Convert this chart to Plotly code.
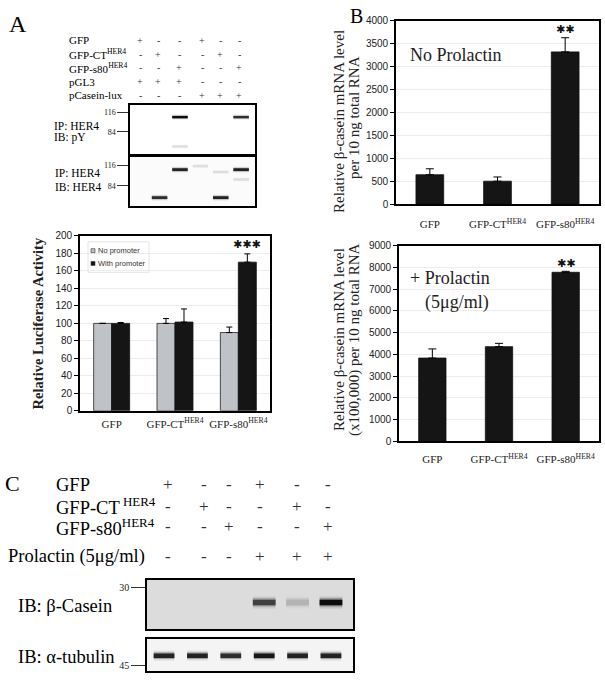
import plotly.graph_objects as go

W, H = 605, 690
SERIF = "Liberation Serif, Times New Roman, serif"
SANS = "Liberation Sans, Arial, sans-serif"
STAR = "DejaVu Sans, sans-serif"

# ---------------- data ----------------
lanes = [1, 2, 3, 4, 5, 6]

# Panel A : transfection table
a_row_labels = ["GFP", "GFP-CT<sup>HER4</sup>", "GFP-s80<sup>HER4</sup>", "pGL3", "pCasein-lux"]
a_signs = [["+", "-", "-", "+", "-", "-"],
           ["-", "+", "-", "-", "+", "-"],
           ["-", "-", "+", "-", "-", "+"],
           ["+", "+", "+", "-", "-", "-"],
           ["-", "-", "-", "+", "+", "+"]]

# Panel A blots (band position = relative migration, 0 = top of blot)
a1_marker_pos = [0.14, 0.54]
a1_marker_text = ["116", "84"]
a1_band_lane = [3, 6, 3]
a1_band_pos = [0.24, 0.24, 0.84]
a1_band_int = [0.95, 0.80, 0.05]

a2_marker_pos = [0.16, 0.58]
a2_marker_text = ["116", "84"]
a2_band_lane = [3, 6, 2, 5, 4, 5, 6]
a2_band_pos = [0.25, 0.25, 0.82, 0.82, 0.18, 0.30, 0.45]
a2_band_int = [0.85, 0.85, 0.80, 0.85, 0.03, 0.04, 0.04]

# Bar charts
bar_cats = ["GFP", "GFP-CT<sup>HER4</sup>", "GFP-s80<sup>HER4</sup>"]
luc_series = ["No promoter", "With promoter"]
luc_no = [100, 100, 89.5]
luc_no_err = [0, 5.5, 6.3]
luc_with = [100, 101.5, 170]
luc_with_err = [1, 15, 9.5]
luc_stars = ["", "", "✱✱✱"]

mrna_noprl = [648, 507, 3322]
mrna_noprl_err = [129, 92, 308]
mrna_noprl_stars = ["", "", "✱✱"]

mrna_prl = [3831, 4356, 7779]
mrna_prl_err = [420, 152, 45]
mrna_prl_stars = ["", "", "✱✱"]

# Panel C
c_row_labels = ["GFP", "GFP-CT<sup> HER4</sup>", "GFP-s80<sup>HER4</sup>", "Prolactin (5μg/ml)"]
c_signs = [["+", "-", "-", "+", "-", "-"],
           ["-", "+", "-", "-", "+", "-"],
           ["-", "-", "+", "-", "-", "+"],
           ["-", "-", "-", "+", "+", "+"]]
c1_marker_pos = [0.16]
c1_marker_text = ["30"]
casein_pos = 0.46
casein_int = [0.0, 0.0, 0.0, 0.72, 0.22, 0.95]
c2_marker_pos = [0.82]
c2_marker_text = ["45"]
tubulin_pos = 0.52
tubulin_int = [0.85, 0.85, 0.80, 0.90, 0.85, 0.85]

# ---------------- helpers ----------------
def dx(x0, x1):
    return [x0 / W, x1 / W]

def dy(y0, y1):
    return [1 - y1 / H, 1 - y0 / H]

def px(x):
    return x / W

def py(y):
    return 1 - y / H

fig = go.Figure()
annotations = []
shapes = []

def txt(x, y, text, size, family=SERIF, xanchor="left", color="black", **kw):
    annotations.append(dict(x=px(x), y=py(y), xref="paper", yref="paper", text=text,
                            showarrow=False, xanchor=xanchor, yanchor="middle",
                            font=dict(family=family, size=size, color=color), **kw))

def add_band(n, lane, pos, inten, hw, thick):
    if inten <= 0:
        return
    xs = [lane - hw, lane + hw]
    ys = [pos, pos]
    layers = [(thick * 2.2, 0.12), (thick * 1.5, 0.30), (thick, 0.0)]
    for w, a in layers:
        if a > 0:
            col = f"rgba(0,0,0,{a * inten:.3f})"
        else:
            g = int(round(230 * (1 - inten)))
            col = f"rgb({g},{g},{g})"
        fig.add_trace(go.Scatter(x=xs, y=ys, mode="lines", line=dict(color=col, width=w),
                                 xaxis=f"x{n}", yaxis=f"y{n}", hoverinfo="skip", showlegend=False))

# ---------------- Panel A bars ----------------
GREY = "#bfc3c7"
DARK = "#151515"
fig.add_trace(go.Bar(x=bar_cats, y=luc_no, name=luc_series[0], width=0.284, offset=-0.284,
                     marker=dict(color=GREY, line=dict(color="#222", width=0.8)),
                     error_y=dict(type="data", array=luc_no_err, arrayminus=[0] * 3, symmetric=False,
                                  color="black", thickness=1, width=3),
                     xaxis="x", yaxis="y", showlegend=False))
fig.add_trace(go.Bar(x=bar_cats, y=luc_with, name=luc_series[1], width=0.284, offset=0,
                     marker=dict(color=DARK, line=dict(color="#111", width=0.8)),
                     error_y=dict(type="data", array=luc_with_err, arrayminus=[0] * 3, symmetric=False,
                                  color="black", thickness=1, width=3),
                     xaxis="x", yaxis="y", showlegend=False))
for c, v, e, s in zip(bar_cats, luc_with, luc_with_err, luc_stars):
    if s:
        annotations.append(dict(x=c, y=v + e, xref="x", yref="y", text=s, showarrow=False,
                                xshift=9, yshift=9, yanchor="middle",
                                font=dict(family=STAR, size=11, color="#111")))

# ---------------- Panel B bars ----------------
for n, vals, errs, stars in [(2, mrna_noprl, mrna_noprl_err, mrna_noprl_stars),
                             (3, mrna_prl, mrna_prl_err, mrna_prl_stars)]:
    fig.add_trace(go.Bar(x=bar_cats, y=vals, width=0.41,
                         marker=dict(color=DARK, line=dict(color="#111", width=0.8)),
                         error_y=dict(type="data", array=errs, arrayminus=[0] * 3, symmetric=False,
                                      color="black", thickness=1, width=4),
                         xaxis=f"x{n}", yaxis=f"y{n}", showlegend=False))
    for c, v, e, s in zip(bar_cats, vals, errs, stars):
        if s:
            annotations.append(dict(x=c, y=v + e, xref=f"x{n}", yref=f"y{n}", text=s, showarrow=False,
                                    yshift=8, yanchor="middle",
                                    font=dict(family=STAR, size=11, color="#111")))

# ---------------- Blots ----------------
for lane, pos, inten in zip(a1_band_lane, a1_band_pos, a1_band_int):
    add_band(4, lane, pos, inten, 0.38, 2.2)
for lane, pos, inten in zip(a2_band_lane, a2_band_pos, a2_band_int):
    add_band(5, lane, pos, inten, 0.38, 2.6)
for lane, inten in zip(lanes, casein_int):
    add_band(6, lane, casein_pos, inten, 0.34, 5.5)
for lane, inten in zip(lanes, tubulin_int):
    add_band(7, lane, tubulin_pos, inten, 0.31, 4.5)

layout = dict(width=W, height=H, margin=dict(l=0, r=0, t=0, b=0),
              paper_bgcolor="white", plot_bgcolor="rgba(0,0,0,0)", barmode="overlay",
              showlegend=False)

def blot_axes(n, x0, x1, y0, y1, xr, tv, tt, tlen, tsize):
    layout[f"xaxis{n}"] = dict(domain=dx(x0, x1), range=xr, anchor=f"y{n}", showgrid=False,
                               zeroline=False, showticklabels=False, ticks="", showline=True,
                               mirror=True, linecolor="black", linewidth=1.5, fixedrange=True)
    layout[f"yaxis{n}"] = dict(domain=dy(y0, y1), range=[1, 0], anchor=f"x{n}", showgrid=False,
                               zeroline=False, showline=True, mirror=True, linecolor="black",
                               linewidth=1.5, tickmode="array", tickvals=tv, ticktext=tt,
                               ticks="outside", ticklen=tlen, tickwidth=1, tickcolor="#333",
                               tickfont=dict(family=SERIF, size=tsize, color="#222"), fixedrange=True)

blot_axes(4, 130, 255, 101, 151, [0.55, 6.68], a1_marker_pos, a1_marker_text, 11, 8)
blot_axes(5, 130, 255, 154, 204, [0.55, 6.68], a2_marker_pos, a2_marker_text, 11, 8)
blot_axes(6, 147, 353, 584, 634, [0.49, 6.66], c1_marker_pos, c1_marker_text, 14, 10)
blot_axes(7, 147, 353, 644, 677, [0.49, 6.66], c2_marker_pos, c2_marker_text, 14, 10)

# blot backgrounds
shapes.append(dict(type="rect", xref="x6 domain", yref="y6 domain", x0=0, x1=1, y0=0, y1=1,
                   fillcolor="#dcdcdc", line=dict(width=0), layer="below"))
shapes.append(dict(type="rect", xref="x7 domain", yref="y7 domain", x0=0, x1=1, y0=0, y1=1,
                   fillcolor="#f4f4f4", line=dict(width=0), layer="below"))
shapes.append(dict(type="rect", xref="x5 domain", yref="y5 domain", x0=0, x1=1, y0=0, y1=1,
                   fillcolor="#fbfbfb", line=dict(width=0), layer="below"))

# bar chart axes
def bar_axes(n, x0, x1, y0, y1, yr, dt, standoff):
    sx = "" if n == 1 else str(n)
    layout[f"xaxis{sx}"] = dict(domain=dx(x0, x1), range=[-0.5, 2.5], anchor=f"y{sx}",
                                type="category", showgrid=False, zeroline=False, ticks="",
                                showline=True, mirror=True, linecolor="black", linewidth=1.6,
                                tickfont=dict(family=SERIF, size=11, color="#222"),
                                ticklabelstandoff=standoff, fixedrange=True)
    layout[f"yaxis{sx}"] = dict(domain=dy(y0, y1), range=yr, dtick=dt, anchor=f"x{sx}",
                                showgrid=True, gridcolor="#ececec", gridwidth=1, zeroline=False,
                                showline=True, mirror=True, linecolor="black", linewidth=1.6,
                                ticks="outside", ticklen=4, tickwidth=1, tickcolor="black",
                                tickfont=dict(family=SANS, size=10, color="#222"), fixedrange=True)

bar_axes(1, 80, 270, 234, 412, [0, 200], 20, 2)
bar_axes(2, 396, 599, 15, 202, [0, 4000], 500, 9)
bar_axes(3, 399, 599, 244, 443, [0, 9000], 1000, 7)

# legend (panel A)
leg_colors = [GREY, DARK]
for i, (name, col) in enumerate(zip(luc_series, leg_colors)):
    yc = 249 + i * 13
    shapes.append(dict(type="rect", xref="paper", yref="paper", x0=px(91), x1=px(95),
                       y0=py(yc + 2), y1=py(yc - 2), fillcolor=col, line=dict(color="#333", width=0.6)))
    txt(96, yc, name, 7.5, family=SANS, color="#333")
shapes.append(dict(type="rect", xref="paper", yref="paper", x0=px(88), x1=px(149),
                   y0=py(271), y1=py(240), line=dict(color="#e4e4e4", width=1), layer="below"))

# ---------------- text ----------------
# panel letters
txt(7, 18, "A", 24)
txt(348, 10, "B", 20)
txt(3, 486, "C", 22)

# panel A table
a_row_y = [35, 49, 63, 77, 91]
a_col_x = [140, 158, 179, 202, 220, 239]
for lab, yy in zip(a_row_labels, a_row_y):
    txt(67, yy, lab, 11)
for row, yy in zip(a_signs, a_row_y):
    for s, xx in zip(row, a_col_x):
        txt(xx, yy, s, 10, xanchor="center", color="#333")

txt(52, 122, "IP: HER4", 11.5)
txt(52, 134, "IB: pY", 11.5)
txt(53, 170, "IP: HER4", 11.5)
txt(53, 184, "IB: HER4", 11.5)

# Panel A y title
annotations.append(dict(x=px(38), y=py(323), xref="paper", yref="paper", text="<b>Relative Luciferase Activity</b>",
                        textangle=-90, showarrow=False, xanchor="center", yanchor="middle",
                        font=dict(family=SERIF, size=14.5, color="#222")))

# Panel B titles
for x, y, t in [(339, 118, "Relative β-casein mRNA level"), (354, 114, "per 10 ng total RNA"),
                (339, 340, "Relative β-casein mRNA level"), (354, 340, "(x100,000) per 10 ng total RNA")]:
    annotations.append(dict(x=px(x), y=py(y), xref="paper", yref="paper", text=t, textangle=-90,
                            showarrow=False, xanchor="center", yanchor="middle",
                            font=dict(family=SERIF, size=15, color="#222")))

txt(408, 50, "No Prolactin", 18, color="#222")
txt(408, 277, "+ Prolactin", 18, color="#222")
txt(423, 302, "(5μg/ml)", 18, color="#222")

# Panel C table
c_row_y = [487, 509, 530, 560]
c_row_x = [54, 54, 54, 6]
c_col_x = [168, 204, 229, 260, 297, 328]
for lab, xx, yy in zip(c_row_labels, c_row_x, c_row_y):
    txt(xx, yy, lab, 18.5)
for row, yy in zip(c_signs, c_row_y):
    for s, xx in zip(row, c_col_x):
        txt(xx, yy, s, 17, xanchor="center", color="#333")

txt(16, 611, "IB: β-Casein", 18.5)
txt(16, 663, "IB: α-tubulin", 18.5)

layout["annotations"] = annotations
layout["shapes"] = shapes
fig.update_layout(**layout)
fig.write_html("out.html", config={"displayModeBar": False},
               post_script="document.body.style.margin='0px';")
